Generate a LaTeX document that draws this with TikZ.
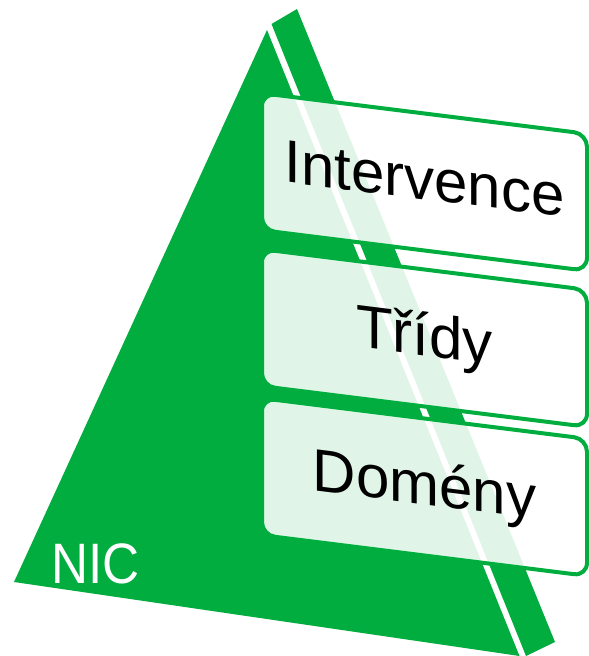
\documentclass[tikz,border=0pt]{standalone}
\usepackage{fontspec}
\setmainfont{Liberation Sans}
\definecolor{nicgreen}{RGB}{0,173,62}

\begin{document}
\begin{tikzpicture}[x=1pt, y=-1pt,
    tier/.style={draw=nicgreen, line width=4pt, fill=white, fill opacity=0.88, text opacity=1,
        rounded corners=13pt, minimum width=325pt, minimum height=137pt, inner sep=0pt,
        text height=43pt, text depth=8pt, yslant=-0.125, font=\fontsize{60}{72}\selectfont}]
\useasboundingbox (0,0) rectangle (589,656);

% pyramid: front face and side face
\fill [nicgreen] (267,30) -- (14,582) -- (519.5,656) -- cycle;
\fill [nicgreen] (271.5,24) -- (297,9) -- (555,642) -- (526,656) -- cycle;

\node [tier] (t1) at (424.5,182) {Intervence};
\node [tier] (t2) at (424.5,338) {Třídy};
\node [tier] (t3) at (424.5,487) {Domény};

\node [anchor=base west, inner sep=0pt, text=white, xscale=0.9,
    font=\fontsize{57}{68}\selectfont] (nic) at (51,583) {NIC};
\end{tikzpicture}
\end{document}
